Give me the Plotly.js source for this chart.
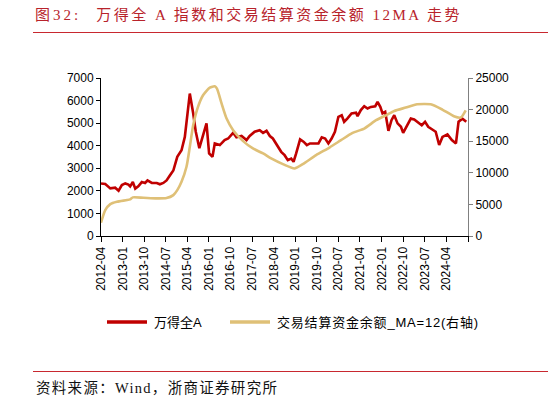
<!DOCTYPE html>
<html>
<head>
<meta charset="utf-8">
<script src="https://cdn.plot.ly/plotly-3.0.1.min.js"></script>
<style>html,body{margin:0;padding:0;background:#fff;}#chart{width:548px;height:403px;}</style>
</head>
<body>
<div id="chart"></div>
<script>
// ---- data ----
const figLabel = "图32:";
const titleMain = "万得全 A 指数和交易结算资金余额 12MA 走势";
const sourceText = "资料来源：Wind，浙商证券研究所";
const seriesAName = "万得全A";
const seriesBName = "交易结算资金余额_MA=12(右轴)";

const indexDates = [
"2012-04-01","2012-05-25","2012-07-28","2012-09-28","2012-11-10","2012-12-22","2013-02-03","2013-03-15",
"2013-04-06","2013-05-10","2013-06-10","2013-07-18","2013-09-01","2013-10-12","2013-11-12","2014-01-06",
"2014-03-10","2014-04-18","2014-06-01","2014-07-12","2014-08-25","2014-10-06","2014-11-25","2015-01-18",
"2015-03-01","2015-05-03","2015-06-15","2015-07-18","2015-09-01","2015-10-12","2015-12-01","2016-01-03",
"2016-02-15","2016-03-15","2016-05-18","2016-07-18","2016-09-01","2016-11-03","2016-12-15","2017-02-18",
"2017-04-22","2017-06-01","2017-08-03","2017-10-06","2017-11-18","2018-01-01","2018-02-12","2018-03-22",
"2018-05-25","2018-07-06","2018-08-18","2018-09-28","2018-11-10","2018-12-10","2019-01-12","2019-03-03",
"2019-04-15","2019-05-28","2019-07-06","2019-09-10","2019-10-22","2019-12-03","2020-01-15","2020-02-25",
"2020-04-06","2020-05-18","2020-07-01","2020-08-12","2020-09-12","2020-10-22","2020-12-15","2021-02-10",
"2021-03-01","2021-04-12","2021-05-25","2021-07-06","2021-08-18","2021-10-12","2021-11-10","2021-12-15",
"2022-01-12","2022-02-15","2022-03-28","2022-05-06","2022-06-10","2022-07-22","2022-09-03","2022-10-01",
"2022-11-12","2023-01-06","2023-02-18","2023-04-12","2023-05-25","2023-07-06","2023-08-15","2023-10-06",
"2023-11-18","2024-01-01","2024-02-12","2024-04-15","2024-06-10","2024-08-01","2024-09-03","2024-10-22",
"2024-12-10"];
const indexValues = [
2330,2300,2110,2140,2005,2260,2330,2280,
2200,2390,2100,2200,2390,2350,2460,2350,
2350,2290,2350,2460,2690,2900,3510,3800,
4390,6310,5440,4620,3890,4390,4990,3660,
3510,4100,4030,4250,4320,4570,4370,4430,
4250,4430,4620,4690,4570,4660,4430,4320,
3950,3730,3580,3360,3430,3290,3660,4280,
4180,4030,4100,4080,4100,4370,4320,4100,
4320,4620,5280,5350,5060,5200,5430,5460,
5310,5580,5750,5650,5720,5750,5940,5720,
5430,5500,4660,5130,5350,4990,4840,4570,
4870,5200,5160,5010,4910,5060,4840,4720,
4620,4030,4390,4500,4250,4100,5060,5200,
5060];

const fundDates = [
"2012-04-01","2012-05-25","2012-07-28","2012-10-20","2013-02-25","2013-04-06","2013-05-10","2013-09-22",
"2014-03-10","2014-07-12","2014-10-06","2014-11-25","2015-01-18","2015-03-22","2015-05-03","2015-06-15",
"2015-08-15","2015-10-18","2016-01-12","2016-03-15","2016-04-12","2016-06-10","2016-08-12","2016-11-03",
"2017-03-06","2017-07-12","2017-11-18","2018-03-01","2018-07-28","2018-12-22","2019-04-06","2019-09-22",
"2020-03-10","2020-08-03","2020-12-28","2021-05-25","2021-10-22","2022-02-25","2022-06-10","2022-11-03",
"2023-03-28","2023-09-15","2024-02-10","2024-07-06","2024-10-01","2024-12-03"];
const fundValues = [
2100,4100,5050,5420,5680,5800,6110,6050,
5950,6000,6470,7260,8580,10950,14100,17530,
20420,22270,23480,23690,23320,20950,18590,16740,
15050,13850,13060,12270,11370,10690,11370,12790,
14000,15160,16310,17000,18320,19100,19790,20320,
20840,20840,20010,18950,18740,19890];

const tickDates = ["2012-04-01","2013-01-01","2013-10-01","2014-07-01","2015-04-01","2016-01-01",
"2016-10-01","2017-07-01","2018-04-01","2019-01-01","2019-10-01","2020-07-01","2021-04-01",
"2022-01-01","2022-10-01","2023-07-01","2024-04-01","2025-01-01"];
const tickLabels = ["2012-04","2013-01","2013-10","2014-07","2015-04","2016-01","2016-10","2017-07",
"2018-04","2019-01","2019-10","2020-07","2021-04","2022-01","2022-10","2023-07","2024-04",""];

// ---- styles ----
const RED = "#c00000";
const GOLD = "#dfc077";
const TITLE_RED = "#b8232b";
const sansFont = "Liberation Sans, Arial, Noto Sans CJK SC, sans-serif";
const serifFont = "Liberation Serif, Noto Sans CJK SC, serif";

const traces = [
  {x: indexDates, y: indexValues, name: seriesAName, type: "scatter", mode: "lines",
   line: {color: RED, width: 2.6}, yaxis: "y", showlegend: false},
  {x: fundDates, y: fundValues, name: seriesBName, type: "scatter", mode: "lines",
   line: {color: GOLD, width: 2.6, shape: "spline", smoothing: 0.6}, yaxis: "y2", showlegend: false}
];

const L = 101, R = 80, T = 78, B = 167, W = 548, H = 403;
const pw = W - L - R, ph = H - T - B;
const px = v => (v - L) / pw;
const py = v => (H - B - v) / ph;

const titleText = "<span style='letter-spacing:3px'>" + figLabel + "</span>" +
  "\u00a0\u00a0\u00a0\u00a0" +
  "<span style='letter-spacing:2.5px'>" + titleMain + "</span>";

const layout = {
  width: W, height: H,
  margin: {l: L, r: R, t: T, b: B, pad: 0},
  paper_bgcolor: "#fff", plot_bgcolor: "#fff",
  title: {text: titleText, xref: "container", yref: "container",
          x: 35 / W, xanchor: "left", y: 1 - 15 / H, yanchor: "middle",
          font: {family: serifFont, size: 15, color: TITLE_RED}},
  xaxis: {type: "date", range: ["2012-04-01", "2025-01-01"],
          tickmode: "array", tickvals: tickDates, ticktext: tickLabels,
          tickangle: -90, ticks: "outside", ticklen: 5, tickcolor: "#000", tickwidth: 1,
          showline: true, linecolor: "#000", linewidth: 1, showgrid: false, zeroline: false,
          tickfont: {family: sansFont, size: 12, color: "#000"}},
  yaxis: {range: [0, 7000], dtick: 1000, tick0: 0, ticks: "outside", ticklen: 4,
          tickcolor: "#000", showline: true, linecolor: "#000", linewidth: 1,
          showgrid: false, zeroline: false, tickformat: "d",
          tickfont: {family: sansFont, size: 12, color: "#000"}},
  yaxis2: {range: [0, 25000], dtick: 5000, tick0: 0, overlaying: "y", side: "right",
           ticks: "outside", ticklen: 4, tickcolor: "#808080", showline: true,
           linecolor: "#808080", linewidth: 1, showgrid: false, zeroline: false, tickformat: "d",
           tickfont: {family: sansFont, size: 12, color: "#000"}},
  shapes: [
    {type: "line", xref: "paper", yref: "paper", x0: px(33), x1: px(548), y0: py(32.5), y1: py(32.5),
     line: {color: "#c8282f", width: 1.2}},
    {type: "line", xref: "paper", yref: "paper", x0: px(33), x1: px(548), y0: py(371.5), y1: py(371.5),
     line: {color: "#c8282f", width: 1.2}},
    {type: "line", xref: "paper", yref: "paper", x0: px(107), x1: px(147), y0: py(322), y1: py(322),
     line: {color: RED, width: 3.5}},
    {type: "line", xref: "paper", yref: "paper", x0: px(230), x1: px(270), y0: py(322), y1: py(322),
     line: {color: GOLD, width: 3.5}}
  ],
  annotations: [
    {xref: "paper", yref: "paper", x: px(152), y: py(322), xanchor: "left", yanchor: "middle",
     text: seriesAName, showarrow: false, font: {family: sansFont, size: 13, color: "#000"}},
    {xref: "paper", yref: "paper", x: px(275), y: py(322), xanchor: "left", yanchor: "middle",
     text: "<span style='letter-spacing:0.8px'>" + seriesBName + "</span>", showarrow: false,
     font: {family: sansFont, size: 13, color: "#000"}},
    {xref: "paper", yref: "paper", x: px(34), y: py(388), xanchor: "left", yanchor: "middle",
     text: "<span style='letter-spacing:1.3px'>" + sourceText + "</span>", showarrow: false,
     font: {family: serifFont, size: 14.5, color: "#111"}}
  ]
};

Plotly.newPlot("chart", traces, layout, {displayModeBar: false, staticPlot: true});
</script>
</body>
</html>
